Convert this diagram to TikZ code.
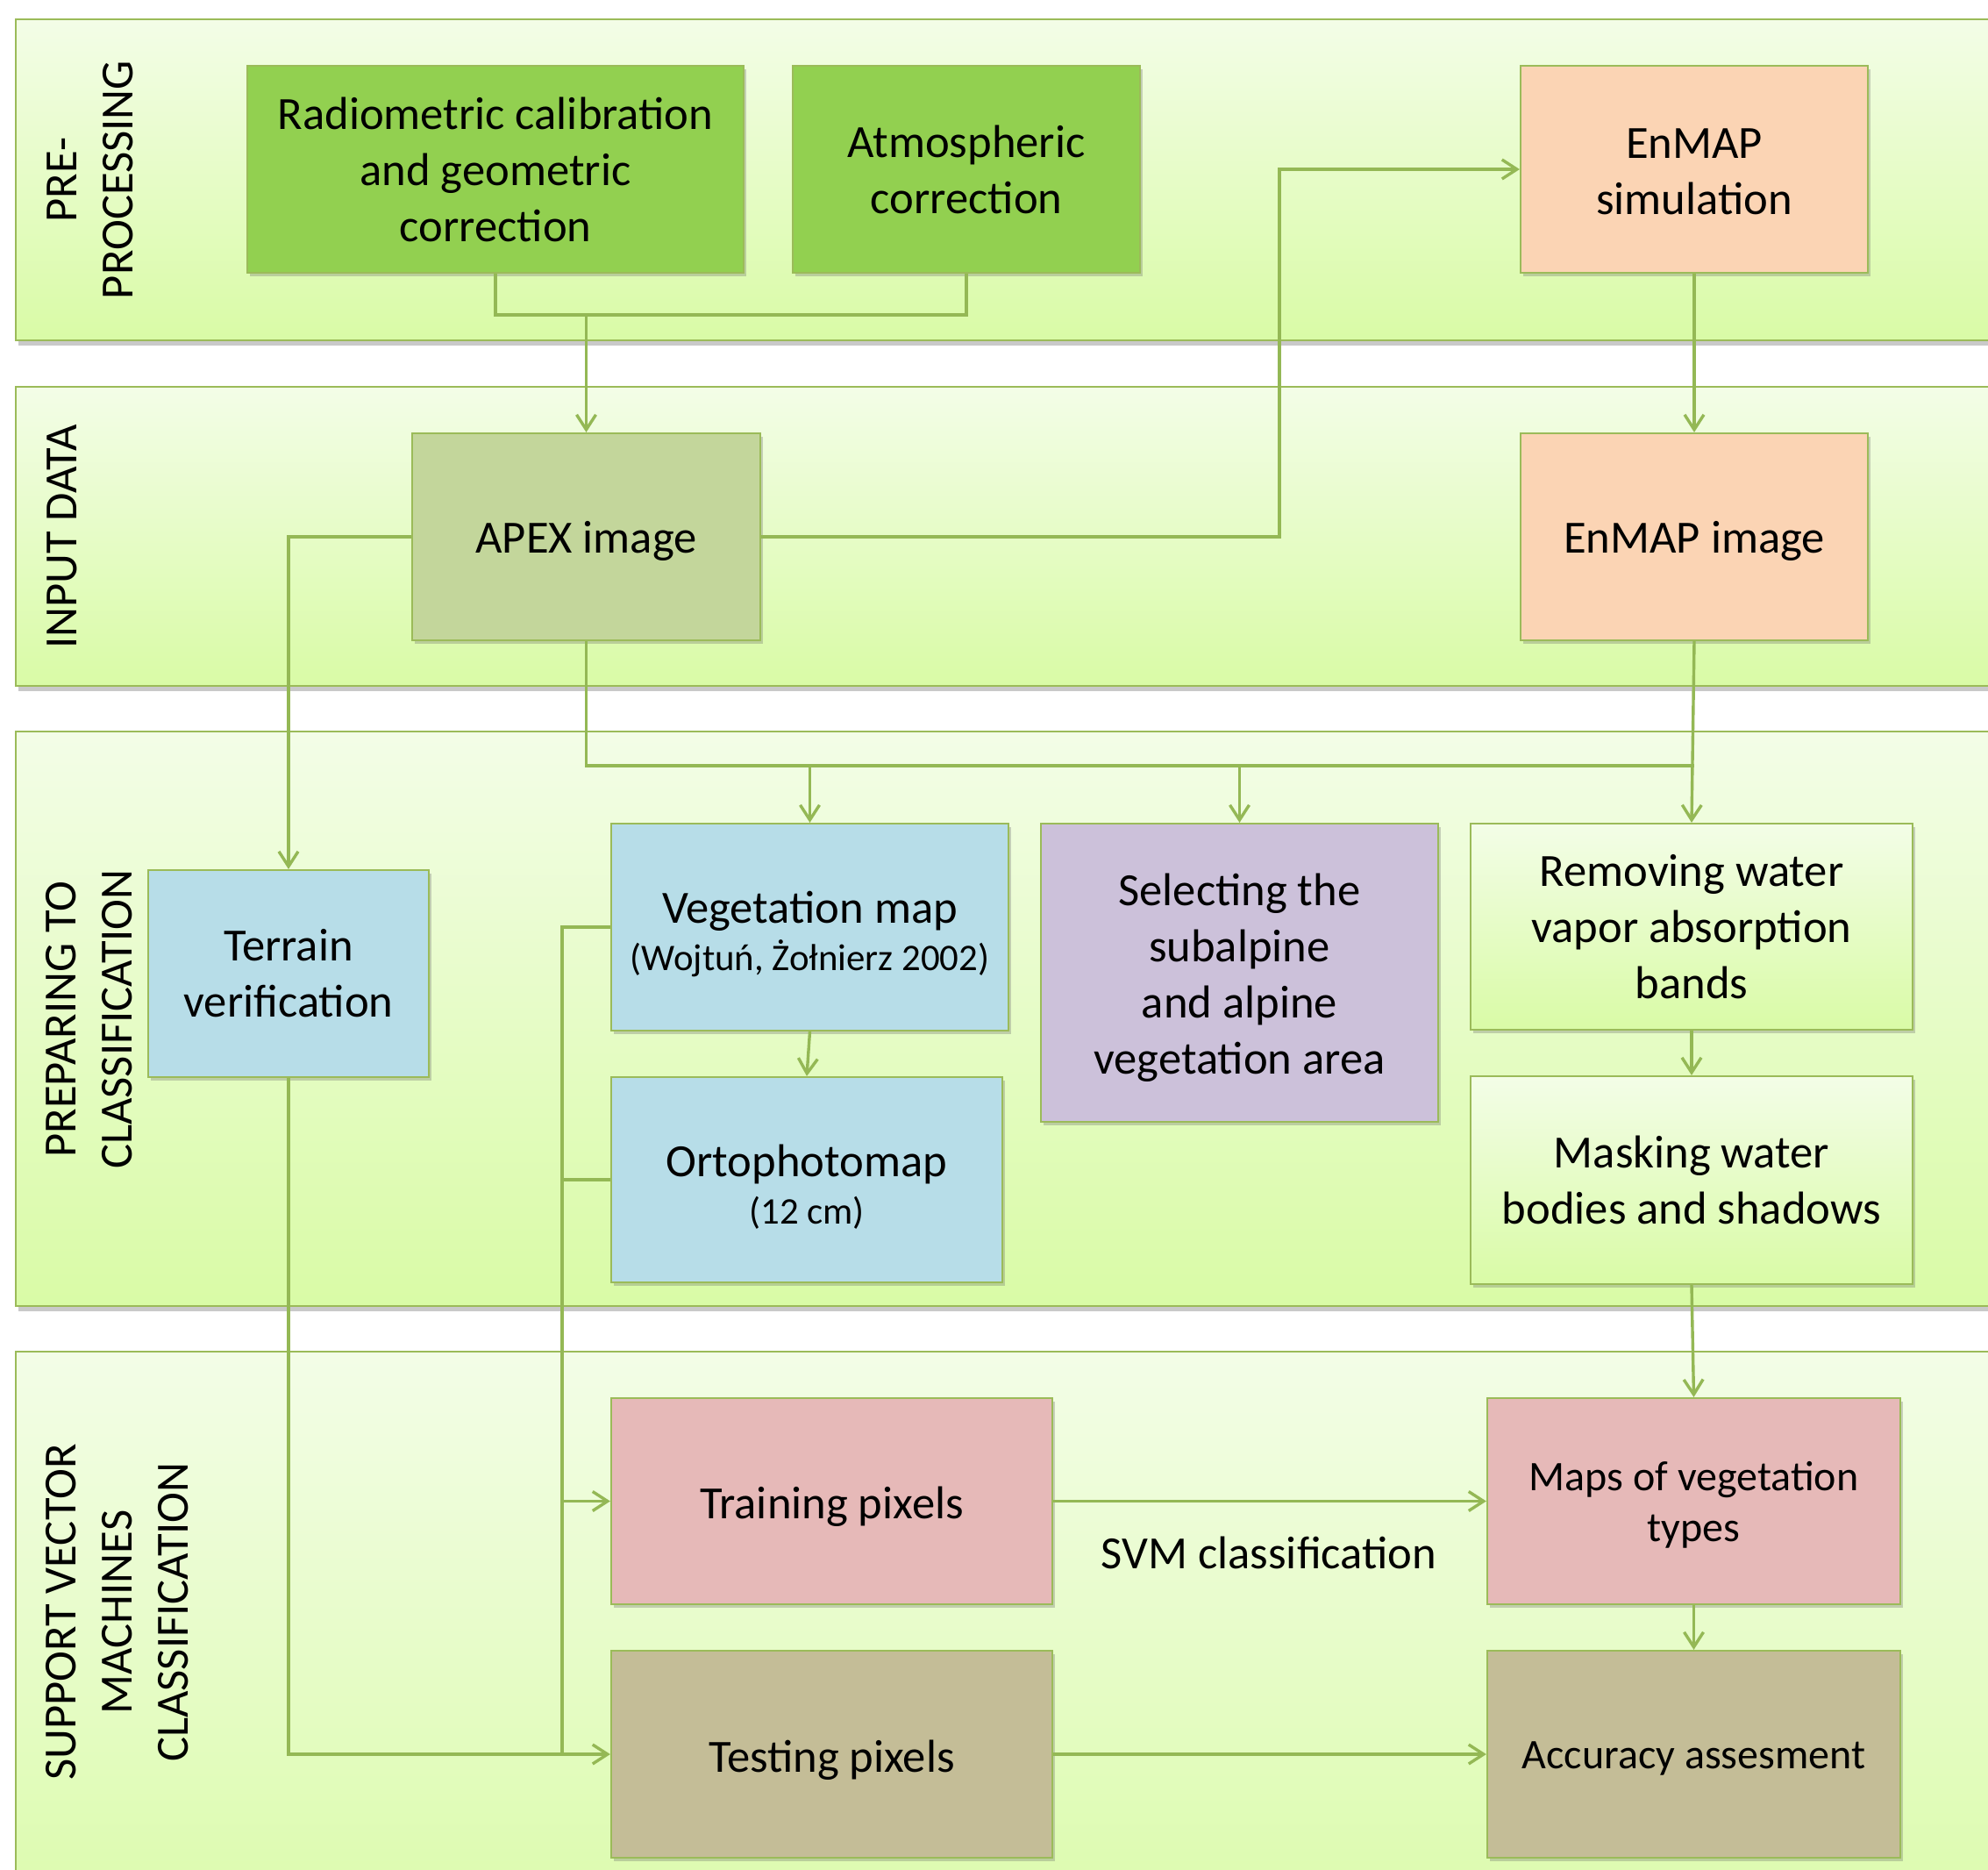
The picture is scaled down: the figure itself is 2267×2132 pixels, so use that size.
\documentclass[tikz,border=0pt]{standalone}
\usepackage{fontspec}
\setmainfont{Carlito}
\usetikzlibrary{arrows.meta,shadows}
\definecolor{bandtop}{HTML}{F3FDE7}
\definecolor{bandbot}{HTML}{D9FBA6}
\definecolor{bordercol}{HTML}{9BBB59}
\definecolor{linecol}{HTML}{94B855}
\definecolor{boxgreen}{HTML}{92D050}
\definecolor{boxpeach}{HTML}{FBD4B4}
\definecolor{boxolive}{HTML}{C3D69B}
\definecolor{boxblue}{HTML}{B7DDE8}
\definecolor{boxlilac}{HTML}{CCC1DA}
\definecolor{boxpink}{HTML}{E6B9B8}
\definecolor{boxtan}{HTML}{C4BD97}
\tikzset{
  band/.style={draw=bordercol, line width=1.2pt, top color=bandtop, bottom color=bandbot,
    drop shadow={shadow xshift=1.5pt, shadow yshift=-3pt, opacity=0.35, fill=black!60}},
  box/.style={draw=bordercol, line width=1.1pt, inner sep=0pt, align=center,
    font=\fontsize{26.3}{32}\selectfont,
    drop shadow={shadow xshift=1.5pt, shadow yshift=-2pt, opacity=0.3, fill=black!60}},
  smalltext/.style={font=\fontsize{24}{29}\selectfont},
  lbl/.style={inner sep=0pt, align=center, font=\fontsize{26.3}{32}\selectfont},
  conn/.style={draw=linecol, line width=1.7pt},
  >={Straight Barb[length=8.5pt,width=11pt]}
}
\begin{document}
\begin{tikzpicture}[x=0.5pt,y=-0.5pt]
\useasboundingbox (0,0) rectangle (2267,2132);
\clip (0,0) rectangle (2267,2132);
\fill[white] (0,0) rectangle (2267,2132);
% bands
\draw[band] (18,22) rectangle (2320,388);
\draw[band] (18,441) rectangle (2320,782);
\draw[band] (18,834) rectangle (2320,1489);
\draw[band] (18,1541) rectangle (2320,2260);
% band labels
\node[lbl, rotate=90] (l1) at (103,205) {PRE-\\PROCESSING};
\node[lbl, rotate=90] (l2) at (71,612) {INPUT DATA};
\node[lbl, rotate=90] (l3) at (102,1162) {PREPARING TO\\CLASSIFICATION};
\node[lbl, rotate=90] (l4) at (134,1838) {SUPPORT VECTOR\\MACHINES\\CLASSIFICATION};
% boxes
\node[box, fill=boxgreen, minimum width=283pt, minimum height=118pt] (rad) at (565,193) {Radiometric calibration\\and geometric\\correction};
\node[box, fill=boxgreen, minimum width=198pt, minimum height=118pt] (atm) at (1102,193) {Atmospheric\\correction};
\node[box, fill=boxpeach, minimum width=198pt, minimum height=118pt] (sim) at (1932,193) {};
\node[lbl] (sim-t) at (1932,196) {EnMAP\\simulation};
\node[box, fill=boxolive, minimum width=198.5pt, minimum height=118pt] (apex) at (668.5,612) {};
\node[lbl] (apex-t) at (668.5,617) {APEX image};
\node[box, fill=boxpeach, minimum width=198pt, minimum height=118pt] (enimg) at (1932,612) {};
\node[lbl] (enimg-t) at (1932,617) {EnMAP image};
\node[box, fill=boxblue, minimum width=160pt, minimum height=118pt] (terrain) at (329,1110) {Terrain\\verification};
\node[box, fill=boxblue, minimum width=226.5pt, minimum height=118pt] (veg) at (923.5,1057) {};
\node[lbl] (veg-t) at (923.5,1065) {Vegetation map\\[-5pt]{\fontsize{21.4}{26}\selectfont (Wojtuń, Żołnierz 2002)}};
\node[box, fill=boxblue, minimum width=223pt, minimum height=117pt] (ortho) at (920,1345) {};
\node[lbl] (ortho-t) at (920,1353) {Ortophotomap\\[-5pt]{\fontsize{21.4}{26}\selectfont (12 cm)}};
\node[box, fill=boxlilac, minimum width=226.5pt, minimum height=170pt] (sel) at (1413.5,1109) {};
\node[lbl] (sel-t) at (1413.5,1115) {Selecting the\\subalpine\\and alpine\\vegetation area};
\node[box, top color=bandtop, bottom color=bandbot, minimum width=252pt, minimum height=117.5pt] (rem) at (1929,1056.5) {Removing water\\vapor absorption\\bands};
\node[box, top color=bandtop, bottom color=bandbot, minimum width=252pt, minimum height=118.5pt] (mask) at (1929,1345.5) {Masking water\\bodies and shadows};
\node[box, fill=boxpink, minimum width=251.5pt, minimum height=117.5pt] (train) at (948.5,1711.5) {};
\node[lbl] (train-t) at (948.5,1718) {Training pixels};
\node[box, fill=boxtan, minimum width=251.5pt, minimum height=118pt] (test) at (948.5,2000) {};
\node[lbl] (test-t) at (948.5,2007) {Testing pixels};
\node[box, fill=boxpink, minimum width=235.5pt, minimum height=117.5pt] (maps) at (1931.5,1711.5) {};
\node[lbl, smalltext] (maps-t) at (1931.5,1716) {Maps of vegetation\\types};
\node[box, fill=boxtan, minimum width=235.5pt, minimum height=118pt] (acc) at (1931.5,2000) {};
\node[lbl, smalltext] (acc-t) at (1931.5,2005) {Accuracy assesment};
\node[lbl] (svm) at (1447,1770) {SVM classification};
% connectors
\coordinate (j1) at (668.5,359);
\draw[conn] (rad.south) |- (atm.south |- j1) -- (atm.south);
\draw[conn,->] (j1) -- (apex.north);
\coordinate (c2) at (1459,612);
\draw[conn,->] (apex.east) -- (c2) |- (sim.west);
\draw[conn,->] (sim.south) -- (enimg.north);
\draw[conn,->] (apex.west) -| (terrain.north);
\coordinate (j2) at (668.5,873);
\draw[conn] (apex.south) -- (j2) -- (enimg.south |- j2);
\draw[conn,->] (enimg.south) -- (rem.north);
\draw[conn,->] (veg.north |- j2) -- (veg.north);
\draw[conn,->] (sel.north |- j2) -- (sel.north);
\draw[conn,->] (veg.south) -- (ortho.north);
\coordinate (v1) at (641,1057);
\coordinate (v2) at (641,2000);
\draw[conn] (veg.west) -- (v1) -- (v2);
\draw[conn] (ortho.west) -- (ortho.west -| v1);
\draw[conn,->] (train.west -| v1) -- (train.west);
\draw[conn,->] (terrain.south) |- (test.west);
\draw[conn,->] (train.east) -- (maps.west);
\draw[conn,->] (test.east) -- (acc.west);
\draw[conn,->] (rem.south) -- (mask.north);
\draw[conn,->] (mask.south) -- (maps.north);
\draw[conn,->] (maps.south) -- (acc.north);
\end{tikzpicture}
\end{document}
